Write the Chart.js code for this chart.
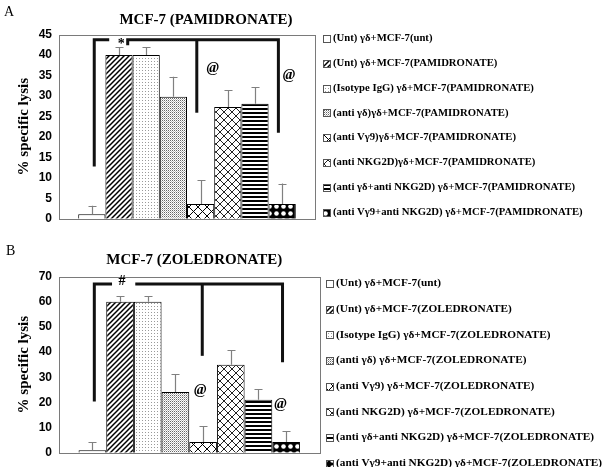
<!DOCTYPE html>
<html><head><meta charset="utf-8">
<script src="https://cdn.jsdelivr.net/npm/chart.js@4"></script>
<style>
html,body{margin:0;padding:0;background:#fff;width:605px;height:467px;overflow:hidden}
.box{position:absolute;left:0;width:605px}
#a{top:0;height:233px}
#b{top:233px;height:234px}
</style></head><body>
<div class="box" id="a"><canvas id="ca" width="605" height="233"></canvas></div>
<div class="box" id="b"><canvas id="cb" width="605" height="234"></canvas></div>
<script>
// ---------- data ----------
const category = [''];
const seriesA = [
  '(Unt) γδ+MCF-7(unt)',
  '(Unt) γδ+MCF-7(PAMIDRONATE)',
  '(Isotype IgG) γδ+MCF-7(PAMIDRONATE)',
  '(anti γδ)γδ+MCF-7(PAMIDRONATE)',
  '(anti Vγ9)γδ+MCF-7(PAMIDRONATE)',
  '(anti NKG2D)γδ+MCF-7(PAMIDRONATE)',
  '(anti γδ+anti NKG2D) γδ+MCF-7(PAMIDRONATE)',
  '(anti Vγ9+anti NKG2D) γδ+MCF-7(PAMIDRONATE)'
];
const valuesA = [1.1, 40, 40, 29.8, 3.6, 27.3, 28.1, 3.6];
const errorsA = [2.1, 1.9, 1.9, 4.9, 5.9, 4.1, 4.1, 5.0];
const ticksA = [0, 5, 10, 15, 20, 25, 30, 35, 40, 45];

const seriesB = [
  '(Unt) γδ+MCF-7(unt)',
  '(Unt) γδ+MCF-7(ZOLEDRONATE)',
  '(Isotype IgG) γδ+MCF-7(ZOLEDRONATE)',
  '(anti γδ) γδ+MCF-7(ZOLEDRONATE)',
  '(anti Vγ9) γδ+MCF-7(ZOLEDRONATE)',
  '(anti NKG2D) γδ+MCF-7(ZOLEDRONATE)',
  '(anti γδ+anti NKG2D) γδ+MCF-7(ZOLEDRONATE)',
  '(anti Vγ9+anti NKG2D) γδ+MCF-7(ZOLEDRONATE)'
];
const valuesB = [1, 60, 60, 24.1, 4.3, 35, 21.1, 4.3];
const errorsB = [3.1, 2.2, 2.2, 7.2, 6.2, 5.7, 4.1, 4.2];
const ticksB = [0, 10, 20, 30, 40, 50, 60, 70];

// significance annotations: [bar position (fractional bar index), value]
const bracketsA = [
  [[0.09, 12.8], [0.09, 43.7], [0.64, 43.7]],
  [[1.32, 42.4], [1.32, 43.7], [6.86, 43.7], [6.86, 21.0]],
  [[3.86, 43.7], [3.86, 25.9]]
];
const marksA = [['*', 1.08, 42.6], ['@', 4.45, 36.9], ['@', 7.25, 35.2]];
const bracketsB = [
  [[0.07, 20.4], [0.07, 67.0], [0.71, 67.0]],
  [[1.55, 67.0], [6.87, 67.0], [6.87, 36.0]],
  [[3.97, 67.0], [3.97, 38.5]]
];
const marksB = [['#', 1.07, 68.0], ['@', 3.9, 24.9], ['@', 6.8, 19.4]];

// ---------- patterns ----------
function tile(w, h, fn) {
  const c = document.createElement('canvas');
  c.width = w; c.height = h;
  const g = c.getContext('2d');
  g.fillStyle = '#fff'; g.fillRect(0, 0, w, h);
  fn(g, w, h);
  return document.createElement('canvas').getContext('2d').createPattern(c, 'repeat');
}
const patterns = [
  '#ffffff',
  tile(5, 5, (g, s) => {
    g.strokeStyle = '#000'; g.lineWidth = 1.5; g.beginPath();
    g.moveTo(0, s); g.lineTo(s, 0);
    g.moveTo(-1, 1); g.lineTo(1, -1);
    g.moveTo(s - 1, s + 1); g.lineTo(s + 1, s - 1);
    g.stroke();
  }),
  tile(3, 3, (g) => { g.fillStyle = '#9a9a9a'; g.fillRect(1, 1, 1, 1); }),
  tile(2, 2, (g) => { g.fillStyle = '#666'; g.fillRect(0, 0, 1, 1); g.fillStyle = '#bbb'; g.fillRect(1, 1, 1, 1); }),
  tile(9, 9, (g, s) => {
    g.strokeStyle = '#000'; g.lineWidth = 1; g.beginPath();
    g.moveTo(0, 0); g.lineTo(s, s); g.moveTo(s, 0); g.lineTo(0, s); g.stroke();
  }),
  tile(8, 8, (g, s) => {
    g.strokeStyle = '#222'; g.lineWidth = 1; g.beginPath();
    g.moveTo(0, 0); g.lineTo(s, s); g.moveTo(s, 0); g.lineTo(0, s); g.stroke();
  }),
  tile(4, 4, (g) => { g.fillStyle = '#000'; g.fillRect(0, 0, 4, 2); }),
  tile(7, 7, (g) => {
    g.fillStyle = '#000'; g.fillRect(0, 0, 7, 7);
    g.fillStyle = '#fff'; g.beginPath(); g.arc(3.5, 3.5, 2.3, 0, Math.PI * 2); g.fill();
  })
];

// ---------- plugins ----------
function barX(chart, f) {
  const x0 = chart.getDatasetMeta(0).data[0].x;
  const x1 = chart.getDatasetMeta(1).data[0].x;
  return x0 + f * (x1 - x0);
}
const decorPlugin = {
  id: 'decor',
  beforeDatasetsDraw(chart) {
    const a = chart.chartArea, ctx = chart.ctx;
    ctx.save();
    ctx.strokeStyle = '#7a7a7a'; ctx.lineWidth = 1;
    ctx.strokeRect(Math.round(a.left) + 0.5, Math.round(a.top) + 0.5,
      Math.round(a.right - a.left), Math.round(a.bottom - a.top));
    ctx.restore();
  },
  afterDatasetsDraw(chart, args, o) {
    const ctx = chart.ctx, ys = chart.scales.y;
    ctx.save();
    // error bars
    ctx.strokeStyle = '#808080'; ctx.lineWidth = 1.2;
    chart.data.datasets.forEach((ds, i) => {
      const bar = chart.getDatasetMeta(i).data[0];
      const v = ds.data[0], e = o.errors[i];
      const x = Math.round(bar.x) + 0.5;
      const y0 = ys.getPixelForValue(v), y1 = ys.getPixelForValue(v + e);
      ctx.beginPath(); ctx.moveTo(x, y0); ctx.lineTo(x, y1);
      ctx.moveTo(x - 4, Math.round(y1) + 0.5); ctx.lineTo(x + 4, Math.round(y1) + 0.5); ctx.stroke();
    });
    // brackets
    ctx.strokeStyle = '#111'; ctx.lineWidth = 3; ctx.lineJoin = 'miter';
    o.brackets.forEach(pts => {
      ctx.beginPath();
      pts.forEach((p, k) => {
        const x = barX(chart, p[0]), y = ys.getPixelForValue(p[1]);
        k ? ctx.lineTo(x, y) : ctx.moveTo(x, y);
      });
      ctx.stroke();
    });
    ctx.fillStyle = '#000'; ctx.textAlign = 'center'; ctx.textBaseline = 'middle';
    o.marks.forEach(m => {
      ctx.font = m[0] === '@' ? 'bold italic 15px "Liberation Serif"' : 'bold 14px "Liberation Serif"';
      ctx.fillText(m[0], barX(chart, m[1]), ys.getPixelForValue(m[2]));
    });
    ctx.restore();
  },
  afterDraw(chart, args, o) {
    const ctx = chart.ctx, a = chart.chartArea;
    ctx.save();
    ctx.fillStyle = '#000'; ctx.textBaseline = 'middle'; ctx.textAlign = 'left';
    ctx.font = '14px "Liberation Serif"';
    ctx.fillText(o.panel, o.panelX, o.panelY);
    // title, centred a little right of the plot centre as in the original
    ctx.textAlign = 'center';
    ctx.font = 'bold 15px "Liberation Serif"';
    ctx.fillText(o.title, (a.left + a.right) / 2 + o.titleDx, o.titleY);
    // legend
    ctx.textAlign = 'left';
    ctx.font = 'bold ' + o.legFont + 'px "Liberation Serif"';
    chart.data.datasets.forEach((ds, i) => {
      const y = o.legY + i * o.legStep;
      ctx.fillStyle = ds.backgroundColor;
      ctx.fillRect(o.legX, Math.round(y - 3.5), 7, 7);
      ctx.strokeStyle = '#555'; ctx.lineWidth = 1;
      ctx.strokeRect(o.legX + 0.5, Math.round(y - 3.5) + 0.5, 7, 7);
      ctx.fillStyle = '#000';
      ctx.fillText(ds.label, o.legX + 10, y);
    });
    ctx.restore();
  }
};

function makeChart(id, series, values, errors, ticks, brackets, marks, title, cfg) {
  return new Chart(document.getElementById(id), {
    type: 'bar',
    data: {
      labels: category,
      datasets: series.map((s, i) => ({
        label: s, data: [values[i]],
        backgroundColor: patterns[i], borderColor: '#000', borderWidth: 1,
        categoryPercentage: 0.85, barPercentage: 1
      }))
    },
    options: {
      responsive: false, animation: false, devicePixelRatio: 1,
      layout: { padding: cfg.padding },
      plugins: {
        legend: { display: false },
        tooltip: { enabled: false },
        title: { display: false },
        decor: Object.assign({ errors, brackets, marks, title }, cfg.decor)
      },
      scales: {
        x: { display: false },
        y: {
          min: ticks[0], max: ticks[ticks.length - 1],
          afterFit: s => { s.width = 59; },
          afterBuildTicks: s => { s.ticks = ticks.map(v => ({ value: v })); },
          grid: { display: false, drawTicks: false },
          border: { display: false },
          ticks: { color: '#000', padding: 7, font: { family: '"Liberation Sans"', size: 12, weight: 'bold' } },
          title: {
            display: true, text: '% specific lysis', color: '#000',
            font: { family: '"Liberation Serif"', size: 15, weight: 'bold' },
            padding: { top: 15, bottom: 0 }
          }
        }
      }
    },
    plugins: [decorPlugin]
  });
}

makeChart('ca', seriesA, valuesA, errorsA, ticksA, bracketsA, marksA, 'MCF-7 (PAMIDRONATE)', {
  padding: { top: 34.5, left: 0, right: 290, bottom: 14 },
  decor: { panel: 'A', panelX: 4, panelY: 12, titleDx: 19, titleY: 20,
           legX: 323, legY: 38.5, legStep: 24.8, legFont: 10.7 }
});
makeChart('cb', seriesB, valuesB, errorsB, ticksB, bracketsB, marksB, 'MCF-7 (ZOLEDRONATE)', {
  padding: { top: 43.5, left: 0, right: 285.5, bottom: 8 },
  decor: { panel: 'B', panelX: 6, panelY: 18, titleDx: 5, titleY: 27,
           legX: 326, legY: 50.3, legStep: 25.7, legFont: 11.3 }
});
</script>
</body></html>
